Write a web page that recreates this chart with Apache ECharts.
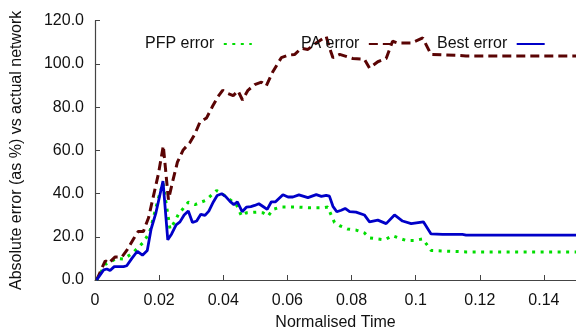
<!DOCTYPE html>
<html><head><meta charset="utf-8">
<script src="https://cdn.jsdelivr.net/npm/echarts@6/dist/echarts.min.js"></script>
<style>html,body{margin:0;padding:0;background:#fff}#c{width:576px;height:336px}</style>
</head><body><div id="c"></div>
<script>
const xTicks = [0, 0.02, 0.04, 0.06, 0.08, 0.1, 0.12, 0.14];
const yTicks = [0, 20, 40, 60, 80, 100, 120];
const seriesNames = ['PFP error', 'PA error', 'Best error'];

const pfpData = [[0.0005,0],[0.0032,7.2],[0.0068,10],[0.0089,9.7],[0.0115,12.2],[0.0136,15.2],[0.0151,17.5],[0.017,22],[0.0198,37.9],[0.0212,45],[0.0234,23.6],[0.025,27.3],[0.026,30.4],[0.0291,36],[0.0312,34.9],[0.0346,36.9],[0.0379,41.4],[0.04,39.5],[0.0421,37.2],[0.0441,34.9],[0.0457,29.6],[0.0472,31.1],[0.0504,31.4],[0.0524,31.1],[0.054,29.6],[0.0555,32.7],[0.0581,33.8],[0.0628,33.8],[0.0669,33.4],[0.0711,33.4],[0.0726,33.8],[0.0738,29.5],[0.0747,26.6],[0.0763,25.1],[0.0788,23.6],[0.0814,23.1],[0.084,21.8],[0.0856,19.5],[0.0882,19],[0.0903,18.6],[0.0928,20.5],[0.0949,19.3],[0.097,18.3],[0.0996,18.3],[0.1022,19],[0.1048,13.7],[0.1105,13.3],[0.1157,13],[0.15,13]];

const paData = [[0.0005,0],[0.0032,8.9],[0.0042,7.7],[0.0063,10.7],[0.0084,10.7],[0.0099,13.7],[0.012,19],[0.0135,22.5],[0.0151,22.5],[0.0167,28.8],[0.0182,38.7],[0.0198,49.3],[0.0213,62.1],[0.0229,37.2],[0.0242,45.5],[0.0257,54.5],[0.0275,60.2],[0.0296,63.6],[0.0311,67.4],[0.0327,73],[0.0348,75],[0.0367,80.5],[0.0384,85],[0.0398,87.8],[0.0415,86.3],[0.0431,85.3],[0.0446,87.5],[0.046,83.3],[0.0477,87.8],[0.0498,90.4],[0.0519,91.6],[0.0534,89.8],[0.0555,96.5],[0.0581,102.9],[0.0602,104],[0.0623,104.4],[0.0643,107.2],[0.0664,106.7],[0.069,109.7],[0.0721,112.7],[0.0731,107.5],[0.0742,102.9],[0.0763,104.4],[0.0804,102.5],[0.084,102.2],[0.0856,98.1],[0.0882,101],[0.0908,102.5],[0.0928,110.5],[0.0944,109.7],[0.0986,109.7],[0.1022,112],[0.1048,104.4],[0.1125,104],[0.1157,103.7],[0.15,103.7]];

const bestData = [[0.0005,0],[0.0027,4.7],[0.0037,5.1],[0.0047,4.4],[0.006,6.2],[0.0089,6.2],[0.0099,6.6],[0.0115,10],[0.0132,13.3],[0.0148,11.5],[0.0163,13.7],[0.0175,23.6],[0.019,31.1],[0.0212,45.8],[0.0227,18.6],[0.0239,21.3],[0.0253,25.5],[0.0265,26.9],[0.0278,30.1],[0.0291,31.9],[0.0304,26.6],[0.0317,27.3],[0.033,30.4],[0.0343,29.9],[0.0355,31.9],[0.0369,36.1],[0.0381,39.1],[0.0395,39.9],[0.0407,38.7],[0.0421,36.4],[0.0433,34.9],[0.0444,36.1],[0.0459,31.6],[0.0472,33.7],[0.0486,34],[0.0498,34.5],[0.0511,35.3],[0.0524,34],[0.0537,32.7],[0.055,36.2],[0.0563,36.2],[0.0586,39.5],[0.0602,38.4],[0.0617,38.4],[0.0636,39.4],[0.0664,38.1],[0.069,39.5],[0.0706,38.7],[0.0721,39.2],[0.0731,38.8],[0.0742,34.1],[0.0754,31.6],[0.0768,32.3],[0.078,33.1],[0.0794,31.6],[0.0814,31.4],[0.084,30.1],[0.0856,26.9],[0.0882,27.7],[0.0908,26.1],[0.0934,30.1],[0.0959,27.3],[0.0986,26.1],[0.1024,26.9],[0.1048,21.3],[0.1084,21.1],[0.1146,21.1],[0.1157,20.8],[0.15,20.8]];

const colors = ['#00dd00', '#5a0404', '#0000c8'];
const chart = echarts.init(document.getElementById('c'), null, {renderer: 'canvas'});
const font = 'Liberation Sans, Arial, sans-serif';
function leg(name, left) {
  return {data: [name], left: left, top: 36, align: 'right', orient: 'horizontal',
    itemWidth: 28, itemHeight: 14, padding: 0, selectedMode: false,
    formatter: n => n + ' ',
    itemStyle: {opacity: 0},
    textStyle: {fontFamily: font, fontSize: 16, color: '#111'}};
}
chart.setOption({
  animation: false,
  backgroundColor: '#fff',
  grid: {left: 95, right: 0, top: 20.7, bottom: 50.7, containLabel: false},
  legend: [leg('PFP error', 145), leg('PA error', 301), leg('Best error', 437)],
  xAxis: {
    type: 'value', min: 0, max: 0.15, interval: 0.02,
    name: 'Normalised Time', nameLocation: 'middle', nameGap: 35,
    nameTextStyle: {fontFamily: font, fontSize: 16, color: '#111'},
    axisLine: {show: true, lineStyle: {color: '#444', width: 1.2}},
    axisTick: {show: true, inside: true, length: 5, lineStyle: {color: '#444'}},
    axisLabel: {fontFamily: font, fontSize: 16, color: '#111', margin: 13,
      formatter: v => xTicks.includes(Math.round(v*100)/100) ? String(Math.round(v*100)/100) : '' , showMaxLabel: false},
    splitLine: {show: false}
  },
  yAxis: {
    type: 'value', min: 0, max: 120, interval: 20,
    name: 'Absolute error (as %) vs actual network', nameLocation: 'middle', nameGap: 70,
    nameTextStyle: {fontFamily: font, fontSize: 16, color: '#111'},
    axisLine: {show: true, lineStyle: {color: '#444', width: 1.2}},
    axisTick: {show: true, inside: true, length: 5, lineStyle: {color: '#444'}},
    axisLabel: {fontFamily: font, fontSize: 16, color: '#111', margin: 11,
      formatter: v => yTicks.includes(v) ? v.toFixed(1) : ''},
    splitLine: {show: false}
  },
  series: [
    {name: seriesNames[0], type: 'line', data: pfpData, symbol: 'none', z: 2,
     lineStyle: {color: colors[0], width: 3, type: [3, 5.5]}, itemStyle: {color: colors[0]}},
    {name: seriesNames[1], type: 'line', data: paData, symbol: 'none', z: 3,
     lineStyle: {color: colors[1], width: 3, type: [9, 5]}, itemStyle: {color: colors[1]}},
    {name: seriesNames[2], type: 'line', data: bestData, symbol: 'none', z: 4,
     lineStyle: {color: colors[2], width: 2.8}, itemStyle: {color: colors[2]}}
  ]
});
</script></body></html>
